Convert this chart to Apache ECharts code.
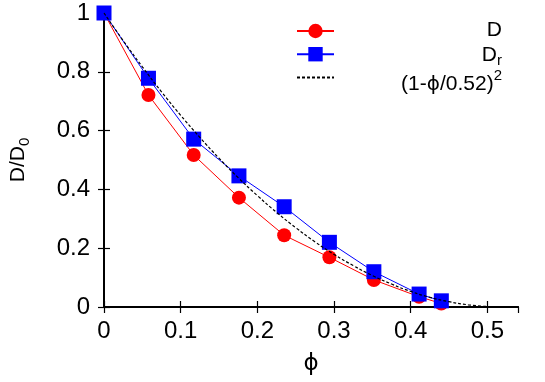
<!DOCTYPE html>
<html>
<head>
<meta charset="utf-8">
<script src="https://cdn.jsdelivr.net/npm/echarts@6/dist/echarts.min.js"></script>
<style>html,body{margin:0;padding:0;background:#fff}#c{width:545px;height:382px}</style>
</head>
<body>
<div id="c"></div>
<script>
// volume fraction phi
var phi = [0, 0.058, 0.117, 0.176, 0.235, 0.294, 0.352, 0.411, 0.44];
// D/D0
var D = [1, 0.721, 0.517, 0.372, 0.244, 0.169, 0.092, 0.035, 0.012];
// Dr/Dr0
var Dr = [1, 0.778, 0.571, 0.446, 0.341, 0.22, 0.12, 0.044, 0.021];
// curve (1-phi/0.52)^2
var fitPhi = [0, 0.025, 0.05, 0.075, 0.1, 0.125, 0.15, 0.175, 0.2, 0.225, 0.25, 0.275, 0.3, 0.325, 0.35, 0.375, 0.4, 0.425, 0.45, 0.475, 0.5];
var fitVal = [1, 0.906, 0.817, 0.732, 0.652, 0.577, 0.506, 0.440, 0.379, 0.322, 0.270, 0.222, 0.179, 0.141, 0.107, 0.078, 0.053, 0.033, 0.018, 0.0075, 0.0015];
var xTicks = ['0', '0.1', '0.2', '0.3', '0.4', '0.5'];
var yTicks = ['0', '0.2', '0.4', '0.6', '0.8', '1'];

function zip(a, b) { return a.map(function (v, i) { return [v, b[i]]; }); }

var FONT = 'Liberation Sans, Arial, sans-serif';
var SYM = 'DejaVu Sans, Liberation Sans, sans-serif';
var chart = echarts.init(document.getElementById('c'), null, { renderer: 'canvas' });
var axisLine = { show: true, lineStyle: { color: '#000', width: 2 } };
var tick = { show: true, inside: true, length: 6, lineStyle: { color: '#000', width: 1.2 } };

chart.setOption({
  animation: false,
  backgroundColor: '#fff',
  grid: { left: 103, top: 13, right: 27, bottom: 75, containLabel: false },
  xAxis: [{
    type: 'value', min: 0, max: 0.54, interval: 0.1, position: 'bottom',
    axisLine: axisLine, axisTick: tick, splitLine: { show: false },
    axisLabel: { fontSize: 24, fontFamily: FONT, color: '#000', margin: 12, showMaxLabel: false,
      formatter: function (v) { var i = Math.round(v * 10); return Math.abs(v * 10 - i) < 1e-6 && xTicks[i] !== undefined ? xTicks[i] : ''; } },
    name: 'ϕ', nameLocation: 'middle', nameGap: 46,
    nameTextStyle: { fontSize: 23, fontFamily: SYM, color: '#000' }
  }, {
    type: 'value', min: 0, max: 0.54, interval: 0.1, position: 'top',
    axisLine: axisLine, axisTick: tick, axisLabel: { show: false }, splitLine: { show: false }
  }],
  yAxis: [{
    type: 'value', min: 0, max: 1, interval: 0.2,
    axisLine: axisLine, axisTick: tick, splitLine: { show: false },
    axisLabel: { fontSize: 24, fontFamily: FONT, color: '#000', margin: 14,
      formatter: function (v) { return yTicks[Math.round(v * 5)]; } },
    name: '{a|D/D}{s|0}', nameLocation: 'middle', nameGap: 72, nameRotate: 90,
    nameTextStyle: { fontSize: 21, fontFamily: FONT, color: '#000',
      rich: { a: { fontSize: 21, fontFamily: FONT, color: '#000' },
              s: { fontSize: 15, fontFamily: FONT, color: '#000', padding: [12, 0, 0, 0] } } }
  }, {
    type: 'value', min: 0, max: 1, interval: 0.2, position: 'right',
    axisLine: axisLine, axisTick: tick, axisLabel: { show: false }, splitLine: { show: false }
  }],
  legend: {
    orient: 'vertical', left: 296, top: 22, padding: 0, itemWidth: 37, itemHeight: 18, itemGap: 7,
    data: ['D', 'Dr', { name: 'fit', itemStyle: { opacity: 0 } }],
    formatter: function () { return ''; },
    textStyle: { fontSize: 1 },
    selectedMode: false
  },
  series: [{
    name: 'D', type: 'line', data: zip(phi, D), clip: false,
    symbol: 'circle', symbolSize: 14,
    lineStyle: { color: '#ff0000', width: 1 }, itemStyle: { color: '#ff0000' }, z: 2
  }, {
    name: 'Dr', type: 'line', data: zip(phi, Dr), clip: false,
    symbol: 'rect', symbolSize: 15,
    lineStyle: { color: '#0000ff', width: 1 }, itemStyle: { color: '#0000ff' }, z: 3
  }, {
    name: 'fit', type: 'line', data: zip(fitPhi, fitVal), smooth: true, clip: false,
    symbol: 'none',
    lineStyle: { color: '#000', width: 1.2, type: [3, 2] }, itemStyle: { color: '#000' }, z: 4
  }],
  graphic: [
    { type: 'text', right: 43, top: 20, z: 10,
      style: { text: 'D', font: '21px ' + FONT, fill: '#000' } },
    { type: 'text', right: 43, top: 45, z: 10,
      style: { text: '{a|D}{s|r}', fill: '#000',
        rich: { a: { font: '21px ' + FONT, fill: '#000' }, s: { font: '15px ' + FONT, fill: '#000', padding: [10, 0, 0, 0] } } } },
    { type: 'text', right: 43, top: 68, z: 10,
      style: { text: '{a|(1-}{p|ϕ}{a|/0.52)}{s|2}', fill: '#000',
        rich: { a: { font: '21px ' + FONT, fill: '#000', padding: [8, 0, 0, 0] },
                p: { font: '20px ' + SYM, fill: '#000', padding: [8, 0, 0, 0] },
                s: { font: '15px ' + FONT, fill: '#000', padding: [0, 0, 10, 0] } } } }
  ]
});
</script>
</body>
</html>
